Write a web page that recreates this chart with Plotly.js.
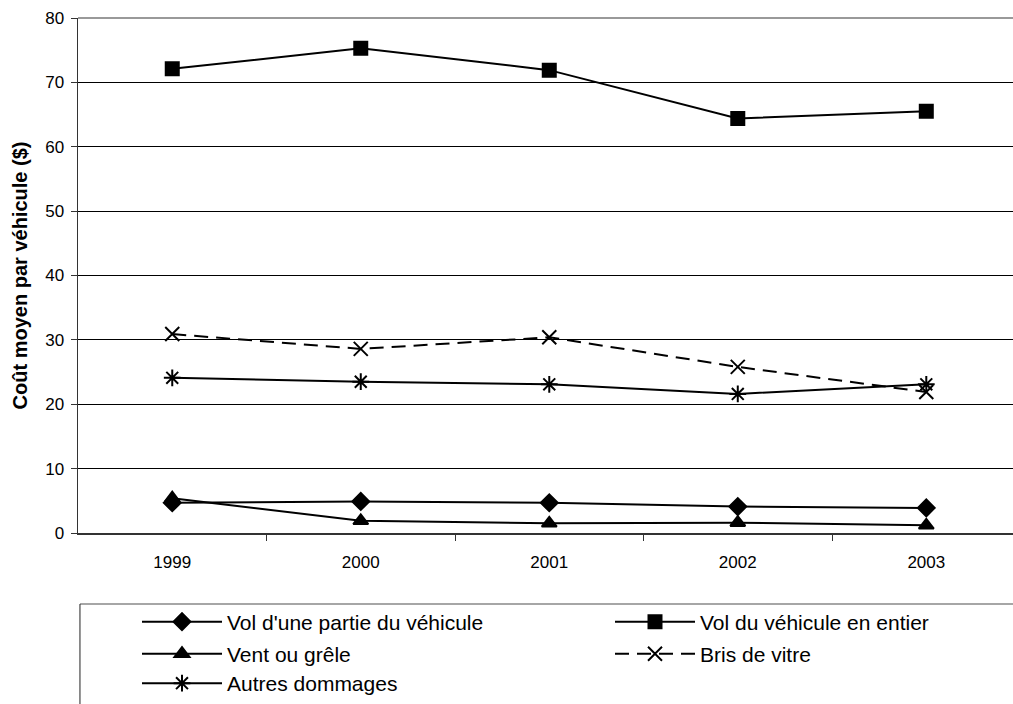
<!DOCTYPE html>
<html>
<head>
<meta charset="utf-8">
<script src="https://cdn.plot.ly/plotly-3.0.1.min.js"></script>
<style>
  html, body { margin: 0; padding: 0; background: #fff; overflow: hidden; }
  #chart { width: 1013px; height: 704px; }
</style>
</head>
<body>
<div id="chart"></div>
<script>
// Average cost per vehicle by claim type, 1999-2003
const years = [1999, 2000, 2001, 2002, 2003];
const yearLabels = ['1999', '2000', '2001', '2002', '2003'];
const volPartie = [4.7, 4.9, 4.7, 4.1, 3.9];
const volEntier = [72.1, 75.3, 71.9, 64.4, 65.5];
const ventGrele = [5.4, 1.9, 1.5, 1.6, 1.2];
const brisVitre = [30.9, 28.6, 30.4, 25.8, 21.9];
const autresDommages = [24.1, 23.5, 23.1, 21.6, 23.1];
const yTicks = [0, 10, 20, 30, 40, 50, 60, 70, 80];

const FONT = 'Liberation Sans, Arial, sans-serif';
const black = '#000000';

function series(name, y, symbol, size, legendId, dash) {
  return {
    type: 'scatter', mode: 'lines+markers', name: name,
    x: years, y: y,
    line: { color: black, width: 2, dash: dash || 'solid' },
    marker: { symbol: symbol, size: size, color: black,
      line: { color: black, width: 2 } },
    legend: legendId,
    hoverinfo: 'x+y+name'
  };
}

const traces = [
  series("Vol d'une partie du véhicule", volPartie, 'diamond', 13, 'legend'),
  series('Vol du véhicule en entier', volEntier, 'square', 13, 'legend2'),
  series('Vent ou grêle', ventGrele, 'triangle-up', 13, 'legend3'),
  series('Bris de vitre', brisVitre, 'x-thin-open', 14, 'legend4', '14px,8px'),
  series('Autres dommages', autresDommages, 'asterisk-open', 14, 'legend5')
];

// one legend box per entry, laid out in two columns
function legendAt(x, y) {
  return {
    x: x, y: y, xanchor: 'left', yanchor: 'middle',
    bgcolor: 'rgba(0,0,0,0)', borderwidth: 0,
    itemwidth: 80,
    font: { family: FONT, size: 21, color: black }
  };
}
const col1 = (137 - 78) / 935, col2 = (610 - 78) / 935;
const row1 = -0.1728, row2 = -0.2350, row3 = -0.2932;

const layout = {
  width: 1013, height: 704,
  margin: { l: 78, r: 0, t: 18, b: 171 },
  paper_bgcolor: '#ffffff', plot_bgcolor: '#ffffff',
  font: { family: FONT, size: 17, color: black },
  showlegend: true,
  legend: legendAt(col1, row1),
  legend2: legendAt(col2, row1),
  legend3: legendAt(col1, row2),
  legend4: legendAt(col2, row2),
  legend5: legendAt(col1, row3),
  xaxis: {
    range: [1998.5, 2003.46],
    tickmode: 'array', tickvals: years, ticktext: yearLabels,
    ticks: '', ticklabelstandoff: 13,
    showgrid: false, zeroline: false,
    showline: true, linecolor: '#333333', linewidth: 1.5,
    tickfont: { family: FONT, size: 17, color: black },
    minor: { tickvals: [1999.5, 2000.5, 2001.5, 2002.5, 2003.5],
      ticks: 'outside', ticklen: 6, tickcolor: '#333333', tickwidth: 1, showgrid: false },
    fixedrange: true
  },
  yaxis: {
    range: [0, 80],
    tickmode: 'array', tickvals: yTicks,
    ticks: 'outside', ticklen: 6, tickcolor: '#333333', tickwidth: 1,
    ticklabelstandoff: 3,
    showgrid: true, gridcolor: black, gridwidth: 1,
    zeroline: false,
    showline: true, linecolor: '#333333', linewidth: 1.5,
    tickfont: { family: FONT, size: 17, color: black },
    title: { text: 'Coût moyen par véhicule ($)',
      font: { family: FONT, size: 20, color: black, weight: 'bold' }, standoff: 12 },
    fixedrange: true
  },
  shapes: [
    // top edge of the plot frame
    { type: 'line', xref: 'paper', yref: 'paper', x0: 0, x1: 1, y0: 1, y1: 1,
      line: { color: '#999999', width: 2 } },
    // legend frame: top and left edges
    { type: 'line', xref: 'paper', yref: 'paper', x0: 0.0021, x1: 1.02, y0: -0.1379, y1: -0.1379,
      line: { color: '#888888', width: 1.5 } },
    { type: 'line', xref: 'paper', yref: 'paper', x0: 0.0021, x1: 0.0021, y0: -0.1379, y1: -0.36,
      line: { color: '#222222', width: 1 } }
  ]
};

Plotly.newPlot('chart', traces, layout, { displayModeBar: false, staticPlot: true });
</script>
</body>
</html>
